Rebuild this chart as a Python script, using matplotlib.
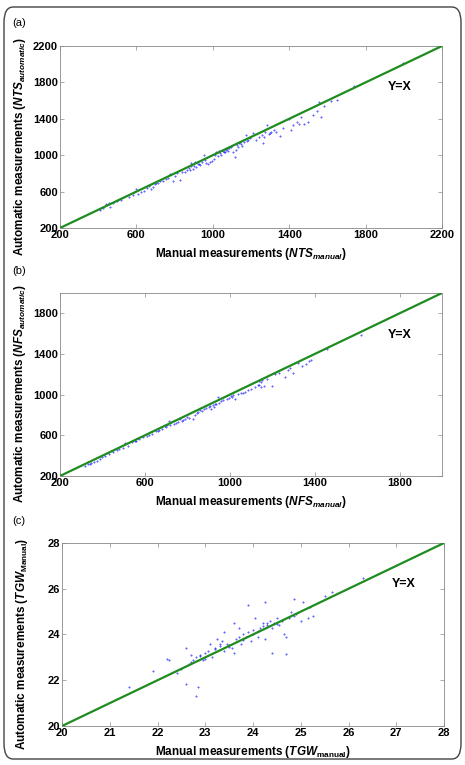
import matplotlib.pyplot as plt
from matplotlib.patches import FancyBboxPatch

plt.rcParams['font.family'] = ['Liberation Sans', 'DejaVu Sans']
plt.rcParams['font.weight'] = 'bold'
plt.rcParams['mathtext.fontset'] = 'custom'
plt.rcParams['mathtext.it'] = 'Liberation Sans:italic:bold'
plt.rcParams['mathtext.rm'] = 'Liberation Sans:bold'
plt.rcParams['mathtext.bf'] = 'Liberation Sans:bold'

# (a) number of total spikelets
nts_manual = [410, 425, 440, 455, 460, 475, 500, 520, 560, 580, 590, 600, 610, 625, 640, 655,
              665, 675, 685, 695, 705, 715, 725, 740, 755, 765, 775, 790, 800, 815, 830, 840,
              855, 865, 875, 885, 888, 895, 905, 910, 920, 935, 945, 955, 965, 975, 985, 995,
              1005, 1015, 1025, 1035, 1045, 1055, 1065, 1068, 1075, 1085, 1095, 1105, 1115,
              1120, 1125, 1135, 1145, 1155, 1165, 1175, 1185, 1195, 1210, 1225, 1240, 1255,
              1265, 1275, 1285, 1295, 1305, 1320, 1330, 1350, 1365, 1400, 1410, 1420, 1440,
              1450, 1460, 1480, 1500, 1525, 1545, 1555, 1565, 1580, 1620, 1650, 1740, 1995,
              880, 900, 930, 960, 1010, 1040, 1060, 1080, 1130, 1150, 1180, 1270, 1300]
nts_auto = [395, 420, 460, 480, 430, 470, 495, 505, 540, 560, 600, 625, 575, 600, 610, 640,
            660, 630, 655, 680, 690, 700, 715, 720, 740, 750, 790, 720, 770, 800, 730, 810,
            820, 840, 860, 910, 880, 850, 920, 870, 900, 890, 930, 1000, 910, 900, 920, 940,
            960, 1030, 990, 1045, 1000, 1050, 1030, 1060, 1070, 1080, 1090, 1040, 980,
            1060, 1110, 1130, 1140, 1100, 1150, 1220, 1170, 1190, 1240, 1170, 1200, 1220,
            1130, 1260, 1330, 1230, 1250, 1280, 1250, 1210, 1300, 1400, 1280, 1330, 1360,
            1340, 1420, 1340, 1370, 1440, 1490, 1580, 1420, 1540, 1600, 1610, 1760, 2010,
            840, 880, 900, 950, 1000, 1020, 1040, 1050, 1090, 1120, 1160, 1200, 1240]

# (b) number of fertile spikelets
nfs_manual = [320, 330, 345, 360, 375, 390, 410, 430, 450, 470, 480, 495, 505, 520, 540, 555,
              570, 590, 610, 620, 635, 650, 665, 680, 695, 705, 715, 720, 735, 745, 755, 765,
              775, 790, 800, 810, 825, 835, 845, 860, 870, 880, 890, 900, 910, 920, 925, 935,
              945, 950, 960, 970, 985, 995, 1005, 1015, 1025, 1040, 1055, 1070, 1085, 1100,
              1120, 1135, 1140, 1145, 1150, 1160, 1175, 1200, 1215, 1230, 1260, 1275, 1285,
              1300, 1320, 1340, 1360, 1375, 1385, 1460, 1620,
              340, 400, 560, 660, 700, 780, 850, 905, 930, 1010, 1060, 1140, 1145]
nfs_auto = [300, 320, 330, 340, 350, 370, 395, 420, 440, 455, 470, 480, 520, 500, 530, 540,
            560, 580, 590, 600, 610, 640, 650, 660, 690, 700, 740, 700, 710, 720, 730, 760,
            740, 760, 780, 770, 760, 800, 820, 850, 840, 860, 870, 880, 860, 900, 880, 910,
            980, 920, 940, 950, 960, 970, 990, 1000, 960, 1010, 1020, 1030, 1050, 1060,
            1080, 1100, 1130, 1120, 1140, 1090, 1150, 1090, 1200, 1210, 1170, 1240, 1260,
            1210, 1310, 1280, 1300, 1330, 1340, 1450, 1590,
            315, 385, 545, 640, 680, 750, 830, 890, 905, 975, 1020, 1100, 1080]

# (c) thousand grain weight
tgw_manual = [21.4, 21.9, 22.2, 22.25, 22.4, 22.5, 22.6, 22.6, 22.65, 22.7, 22.75, 22.8, 22.8,
              22.85, 22.9, 22.95, 23.0, 23.05, 23.1, 23.15, 23.2, 23.25, 23.3, 23.35, 23.4,
              23.4, 23.45, 23.5, 23.55, 23.6, 23.6, 23.65, 23.7, 23.75, 23.8, 23.85, 23.9,
              23.9, 23.95, 24.0, 24.05, 24.1, 24.15, 24.2, 24.25, 24.25, 24.3, 24.35, 24.4,
              24.4, 24.45, 24.5, 24.55, 24.6, 24.65, 24.7, 24.7, 24.75, 24.8, 24.85, 24.85,
              24.9, 25.0, 25.05, 25.15, 25.2, 25.25, 25.5, 25.65, 26.3,
              22.7, 22.9, 23.0, 23.2, 23.3, 23.5, 23.7, 23.8, 24.0, 24.1, 24.2, 24.3, 24.5]
tgw_auto = [21.7, 22.4, 22.95, 22.9, 22.3, 22.5, 21.85, 23.4, 22.7, 23.1, 22.9, 23.0, 21.3,
            21.7, 23.05, 22.9, 23.2, 23.3, 23.6, 23.0, 23.35, 23.8, 23.5, 23.7, 24.1,
            23.3, 23.6, 23.45, 23.4, 24.5, 23.2, 23.8, 24.3, 23.6, 24.0, 23.9, 25.3,
            24.1, 23.7, 24.0, 24.7, 23.9, 24.3, 24.5, 25.4, 23.8, 24.4, 24.6, 23.2,
            24.3, 24.5, 24.7, 24.4, 24.6, 24.0, 23.15, 23.9, 24.7, 25.0, 25.55, 24.8,
            24.9, 24.6, 25.4, 24.7, 25.2, 24.8, 25.7, 25.85, 26.45,
            22.8, 23.1, 22.95, 23.4, 23.6, 23.55, 23.9, 23.75, 24.2, 24.15, 24.35, 24.5, 24.45]

panels = [
    ('(a)', nts_manual, nts_auto, (200, 2200), [200, 600, 1000, 1400, 1800, 2200],
     [200, 600, 1000, 1400, 1800, 2200],
     r'Manual measurements ($NTS_{manual}$)', r'Automatic measurements ($NTS_{automatic}$)',
     (1980, 1750)),
    ('(b)', nfs_manual, nfs_auto, (200, 2000), [200, 600, 1000, 1400, 1800],
     [200, 600, 1000, 1400, 1800],
     r'Manual measurements ($NFS_{manual}$)', r'Automatic measurements ($NFS_{automatic}$)',
     (1800, 1590)),
    ('(c)', tgw_manual, tgw_auto, (20, 28), list(range(20, 29)), [20, 22, 24, 26, 28],
     r'Manual measurements ($TGW_{\mathrm{manual}}$)', r'Automatic measurements ($TGW_{\mathrm{Manual}}$)',
     (27.15, 26.2)),
]

fig = plt.figure(figsize=(4.65, 7.65), dpi=100)
W, H = 465, 765
boxes = [(60, 46, 442, 228), (60, 293, 442, 476), (62, 543, 444, 726)]
letter_y = [23, 271, 521]

for (tag, xs, ys, lim, xt, yt, xl, yl, yx), (l, t, r, b), ly in zip(panels, boxes, letter_y):
    ax = fig.add_axes([l / W, 1 - b / H, (r - l) / W, (b - t) / H])
    ax.plot(lim, lim, color='#1e8c1e', lw=1.6, zorder=3)
    ax.plot(xs, ys, '+', color='blue', ms=2.0, mew=0.8, alpha=0.6, zorder=2)
    ax.set_xlim(lim)
    ax.set_ylim(lim)
    ax.set_xticks(xt)
    ax.set_yticks(yt)
    ax.set_xticklabels([str(v) for v in xt], fontweight='bold')
    ax.set_yticklabels([str(v) for v in yt], fontweight='bold')
    ax.tick_params(direction='in', top=True, right=True, labelsize=8, length=3,
                   width=0.5, color='#888888', pad=1.5)
    for s in ax.spines.values():
        s.set_color('#888888')
        s.set_linewidth(0.6)
    ax.set_xlabel(xl, fontsize=8.5, fontweight='bold', labelpad=4)
    ax.set_ylabel(yl, fontsize=8.5, fontweight='bold')
    ax.yaxis.set_label_coords(-0.085, 0.45)
    ax.text(yx[0], yx[1], 'Y=X', fontsize=9, fontweight='bold', ha='center', va='center')
    fig.text(12 / W, 1 - ly / H, tag, fontsize=8, fontweight='normal', va='center')

border = FancyBboxPatch((4 / W, 6 / H), 457 / W, 752 / H,
                        boxstyle='round,pad=0,rounding_size=0.02',
                        transform=fig.transFigure, fill=False, ec='#444444', lw=1.0)
fig.patches.append(border)

fig.savefig('out.png', dpi=100)
